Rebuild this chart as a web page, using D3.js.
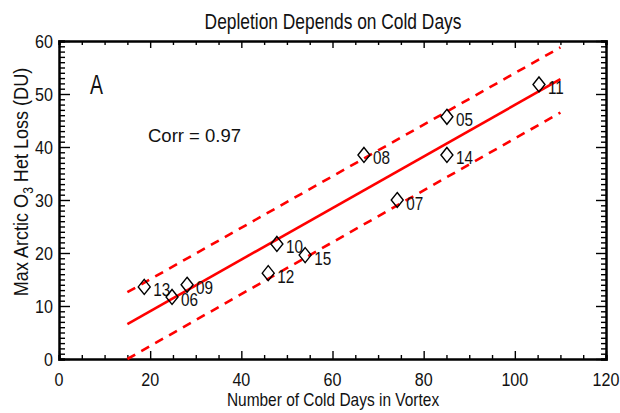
<!DOCTYPE html>
<html>
<head>
<meta charset="utf-8">
<script src="https://cdn.jsdelivr.net/npm/d3@7"></script>
<style>
    body { margin: 0; background: #fff; }
    svg { display: block; }
    text { fill: #111; font-family: "Liberation Sans", Arial, sans-serif; }
</style>
</head>
<body>
<svg id="chart" width="620" height="413"></svg>
<script>
// winter labels and values
const years = ["13", "06", "09", "12", "10", "15", "08", "07", "14", "05", "11"];
const coldDays = [18.7, 24.8, 28.1, 45.9, 47.8, 54.0, 66.9, 74.2, 85.1, 85.1, 105.3];
const o3Loss = [13.6, 11.7, 14.0, 16.2, 21.7, 19.6, 38.5, 30.0, 38.5, 45.7, 51.8];

// regression line and its +/- band (end points)
const fitX = [15, 110];
const fitY = [6.6, 52.8];
const upperY = [12.6, 58.8];
const lowerY = [0.0, 46.5];

const xTicks = [0, 20, 40, 60, 80, 100, 120];
const yTicks = [0, 10, 20, 30, 40, 50, 60];

const red = "#ff0000";

const svg = d3.select("#chart");

const x = d3.scaleLinear().domain([0, 120]).range([59, 606]);
const y = d3.scaleLinear().domain([0, 60]).range([359, 41]);

// the original lettering is condensed, so squeeze text horizontally
function label(parent, px, py, str, size, sx, anchor) {
    return parent.append("text")
        .attr("transform", `translate(${px}, ${py}) scale(${sx}, 1)`)
        .attr("text-anchor", anchor || "start")
        .style("font-size", size + "px")
        .text(str);
}

// title
label(svg, 333, 29, "Depletion Depends on Cold Days", 22, 0.79, "middle");

// bottom axis with labels, minor ticks every 5
const bottomAxis = svg.append("g")
    .attr("transform", `translate(0, ${y(0)})`)
    .call(d3.axisTop(x).tickValues(d3.range(0, 121, 5)).tickSize(4).tickFormat(""));
bottomAxis.selectAll(".tick line").filter(d => d % 20 === 0).attr("y2", -8);

const xLabels = svg.append("g");
xTicks.forEach(d => label(xLabels, x(d), 385.5, d, 18.5, 0.87, "middle"));

// top axis, ticks only
const topAxis = svg.append("g")
    .attr("transform", `translate(0, ${y(60)})`)
    .call(d3.axisBottom(x).tickValues(d3.range(0, 121, 5)).tickSize(4).tickFormat(""));
topAxis.selectAll(".tick line").filter(d => d % 20 === 0).attr("y2", 7);

// left axis, minor ticks every 1
const leftAxis = svg.append("g")
    .attr("transform", `translate(${x(0)}, 0)`)
    .call(d3.axisRight(y).tickValues(d3.range(0, 61, 1)).tickSize(6).tickFormat(""));
leftAxis.selectAll(".tick line").filter(d => d % 10 === 0).attr("x2", 11);

const yLabels = svg.append("g");
yTicks.forEach(d => label(yLabels, 53, y(d) + 7, d, 18.5, 0.87, "end"));

// right axis
const rightAxis = svg.append("g")
    .attr("transform", `translate(${x(120)}, 0)`)
    .call(d3.axisLeft(y).tickValues(d3.range(0, 61, 1)).tickSize(5).tickFormat(""));
rightAxis.selectAll(".tick line").filter(d => d % 10 === 0).attr("x2", -10);

svg.selectAll(".domain").attr("stroke", "#000").attr("stroke-width", 2.5);
svg.selectAll(".tick line").attr("stroke", "#000").attr("stroke-width", 1.4);

// axis titles
label(svg, 333, 406, "Number of Cold Days in Vortex", 18, 0.86, "middle");

const yTitle = svg.append("text")
    .attr("transform", "translate(28, 182) rotate(-90) scale(0.86, 1)")
    .attr("text-anchor", "middle")
    .style("font-size", "21px");
yTitle.append("tspan").text("Max Arctic O");
yTitle.append("tspan").attr("dy", 5).style("font-size", "14px").text("3");
yTitle.append("tspan").attr("dy", -5).text(" Het Loss (DU)");

// panel letter and correlation
label(svg, 90, 94, "A", 27, 0.72);
label(svg, 148, 142, "Corr = 0.97", 18.5, 1);

// fit line and band
const line = d3.line().x(d => x(d[0])).y(d => y(d[1]));

svg.append("path")
    .attr("d", line(d3.zip(fitX, fitY)))
    .attr("fill", "none").attr("stroke", red).attr("stroke-width", 2.6);

[upperY, lowerY].forEach(band => {
    svg.append("path")
        .attr("d", line(d3.zip(fitX, band)))
        .attr("fill", "none").attr("stroke", red).attr("stroke-width", 2.6)
        .attr("stroke-dasharray", "9,7");
});

// diamonds and year labels
const pts = svg.append("g")
    .selectAll("g")
    .data(d3.zip(coldDays, o3Loss, years))
    .enter()
    .append("g")
    .attr("transform", d => `translate(${x(d[0])}, ${y(d[1])})`);

pts.append("path")
    .attr("d", "M0,-7.5L6,0L0,7.5L-6,0Z")
    .attr("fill", "none")
    .attr("stroke", "#000")
    .attr("stroke-width", 1.4);

pts.each(function (d) {
    label(d3.select(this), 9, 9.5, d[2], 18, 0.85);
});
</script>
</body>
</html>
